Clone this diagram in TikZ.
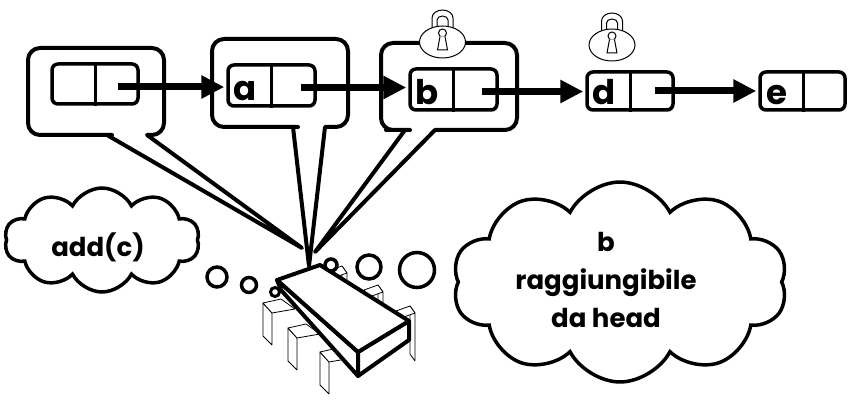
\documentclass[tikz,border=0pt]{standalone}
\usepackage{fontspec}
\setmainfont{Poppins}
\usetikzlibrary{arrows.meta,shapes.symbols,calc}

\begin{document}
\begin{tikzpicture}[x=1pt,y=-1pt,
  bubble/.style={draw, line width=4pt, fill=white, line join=round},
  cell/.style={draw, line width=3.5pt, rounded corners=6pt, minimum width=86pt,
    minimum height=40pt, inner sep=0pt, fill=white},
  divider/.style={line width=3pt},
  letter/.style={font=\fontsize{34}{34}\selectfont\bfseries, inner sep=0pt, anchor=base},
  link/.style={line width=7pt, shorten >=2pt, -{Triangle[length=23pt,width=22pt]}},
  thought/.style={draw, line width=3.5pt, fill=white, cloud, cloud puffs=10,
    cloud puff arc=125, cloud ignores aspect, inner sep=0pt},
  thoughttext/.style={align=center, font=\fontsize{26}{38}\selectfont\bfseries, inner sep=0pt},
  dot/.style={draw, line width=3.5pt, fill=white, circle, inner sep=0pt},
  pin/.style={draw, line width=0.8pt, fill=white, line join=round},
  chipface/.style={draw, line width=4pt, fill=white, line join=round},
  lock/.style={line width=1pt},
  padlock/.pic={
    \draw[lock] (-10.5,-13) -- (-10.5,-24)
      arc[start angle=180, end angle=360, x radius=10.5, y radius=8] -- (10.5,-13);
    \draw[lock] (-5.5,-14) -- (-5.5,-22)
      arc[start angle=180, end angle=360, x radius=5.5, y radius=4] -- (5.5,-14);
    \draw[lock, fill=white] (0,0) ellipse[x radius=23, y radius=16];
    \draw[lock] (0,-9) circle[radius=4];
    \draw[lock, fill=white] (-2.5,-5.5) -- (-5,8) -- (5,8) -- (2.5,-5.5);
  },
  leftpin/.pic={
    \draw[pin] (0,0) -- (9,10) -- (9,42) -- (0,33) -- cycle;
    \draw[pin] (0,0) -- (18,-4) -- (32,6) -- (9,10) -- cycle;
  },
  rightpin/.pic={
    \draw[pin] (14,-5) -- (19,2) -- (19,50) -- (14,43) -- cycle;
    \draw[pin] (0,0) -- (14,-5) -- (19,2) -- (5,7) -- cycle;
  },
]
\useasboundingbox (0,0) rectangle (849,401);

% thought clouds
\node[thought, minimum width=195pt, minimum height=104pt] (cloudL) at (102,240) {};
\node[thoughttext] (textL) at (98,247) {add(c)};
\node[thought, minimum width=335pt, minimum height=200pt] (cloudR) at (620,282) {};
\node[thoughttext] (textR) at (606,280) {b\\raggiungibile\\da head};

% speech bubbles pointing at the list cells
\draw[bubble] (107,135) -- (302,248) -- (147,135) -- (152,135) [rounded corners=12pt]
  -- (164,135) -- (164,48) -- (28,48) -- (28,135) -- (100,135) [sharp corners] -- cycle;
\draw[bubble] (293,127) -- (309,266) -- (325,127) -- (330,127) [rounded corners=12pt]
  -- (348,127) -- (348,39) -- (212,39) -- (212,127) -- (286,127) [sharp corners] -- cycle;
\draw[bubble] (405,130) -- (315,252) -- (435,130) -- (440,130) [rounded corners=12pt]
  -- (517,130) -- (517,43) -- (381,43) -- (381,130) -- (398,130) [sharp corners] -- cycle;

% padlocks
\pic at (442.5,42) {padlock};
\pic at (612,45) {padlock};

% list cells
\node[cell] (n0) at (95,84) {};
\node[cell, minimum width=87pt, minimum height=41pt] (na) at (271.5,85.5) {};
\node[cell, minimum width=87pt, minimum height=41pt] (nb) at (453.5,89.5) {};
\node[cell, minimum height=38pt] (nd) at (630,91) {};
\node[cell, minimum width=85pt, minimum height=38pt] (ne) at (802.5,91) {};
\foreach \n in {n0,na,nb,nd,ne}{
  \draw[divider] ($(\n.north west)+(45,0)$) -- ($(\n.south west)+(45,0)$);
}
\node[letter] (la) at ($(na.south west)+(19,-7)$) {a};
\node[letter] (lb) at ($(nb.south west)+(19,-7)$) {b};
\node[letter] (ld) at ($(nd.south west)+(19,-7)$) {d};
\node[letter] (le) at ($(ne.south west)+(19,-7)$) {e};

% next pointers
\coordinate (p0) at ($(n0.east)+(-22,3)$);
\coordinate (pa) at ($(na.east)+(-16,2)$);
\coordinate (pb) at ($(nb.east)+(-17,2)$);
\coordinate (pd) at ($(nd.east)+(-20,0)$);
\draw[link] (p0) -- (p0 -| na.west);
\draw[link] (pa) -- (pa -| nb.west);
\draw[link] (pb) -- (pb -| nd.west);
\draw[link] (pd) -- (pd -| ne.west);

% thinking processor
\node[dot, minimum size=20pt] (d1) at (217,277) {};
\node[dot, minimum size=15pt] (d2) at (249,285) {};
\node[dot, minimum size=9pt, line width=3pt] (d3) at (275,292) {};
\pic at (328,271) {rightpin};
\pic at (364,290) {rightpin};
\pic at (396,311) {rightpin};
\pic at (263,303) {leftpin};
\pic at (288,328) {leftpin};
\pic at (320,352) {leftpin};
\draw[chipface] (277,280) -- (281,290) -- (358,376) -- (358,352) -- cycle;
\draw[chipface] (358,352) -- (409,321) -- (409,340) -- (358,376) -- cycle;
\draw[chipface] (277,280) -- (320,265) -- (409,321) -- (358,352) -- cycle;
\node[dot, minimum size=12pt] (d4) at (331,265) {};
\node[dot, minimum size=24pt] (d5) at (369,267) {};
\node[dot, minimum size=35pt] (d6) at (417,270) {};
\end{tikzpicture}
\end{document}
